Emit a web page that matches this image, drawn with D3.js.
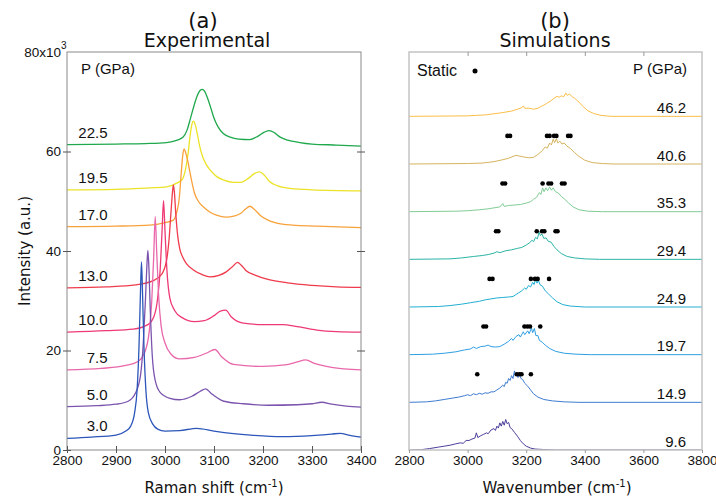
<!DOCTYPE html>
<html>
<head>
<meta charset="utf-8">
<script src="https://cdn.jsdelivr.net/npm/d3@7"></script>
<style>
    body { margin: 0; background: #fff; }
    svg text { font-family: "Liberation Sans", Arial, sans-serif; fill: #111; }
    svg .ttl { font-family: "DejaVu Sans", sans-serif; }
</style>
</head>
<body>
<svg id="chart" width="716" height="498"></svg>
<script>
// experimental spectra, values in units of 10^3 (wavenumber, intensity)
var expPressures = ["22.5", "19.5", "17.0", "13.0", "10.0", "7.5", "5.0", "3.0"];
var expColors = ["#1fa84c", "#ebe326", "#f8a23c", "#ef3b4b", "#ee3a74", "#e967ab", "#7b54ae", "#2c56b9"];

var exp22_5 = [[2800,61.4],[2900,61.5],[2960,61.6],[3003,61.8],[3025,62.3],[3037,62.9],[3045,64.3],[3051,66.3],[3058,68.8],[3065,71.0],[3072,72.3],[3076,72.5],[3081,72.1],[3088,70.4],[3094,68.6],[3099,67.0],[3108,65.0],[3119,63.6],[3133,62.9],[3150,62.5],[3173,62.4],[3190,63.1],[3203,63.9],[3213,64.2],[3223,63.8],[3235,62.9],[3250,62.3],[3275,61.8],[3300,61.5],[3350,61.3],[3400,61.1]];
var exp19_5 = [[2800,52.3],[2900,52.4],[2970,52.7],[3003,52.9],[3025,53.7],[3036,54.5],[3042,56.5],[3047,59.5],[3051,63.0],[3055,65.5],[3058,66.1],[3062,65.3],[3066,63.5],[3071,61.0],[3076,59.2],[3084,57.4],[3092,56.3],[3105,55.0],[3119,54.3],[3140,53.8],[3155,53.8],[3170,54.6],[3183,55.6],[3193,55.9],[3203,55.2],[3214,53.9],[3230,53.1],[3255,52.6],[3300,52.3],[3400,52.1]];
var exp17_0 = [[2800,44.9],[2900,45.0],[2969,45.2],[3000,45.7],[3017,46.2],[3024,47.8],[3029,50.5],[3033,55.5],[3036,59.0],[3039,60.5],[3042,59.8],[3046,58.3],[3050,56.3],[3055,53.8],[3060,51.7],[3068,50.0],[3078,48.9],[3092,47.8],[3105,47.2],[3125,46.8],[3140,47.0],[3155,47.6],[3165,48.5],[3173,49.0],[3182,48.4],[3194,47.2],[3210,46.2],[3228,45.6],[3260,45.2],[3310,45.0],[3400,44.7]];
var exp13_0 = [[2800,32.6],[2880,32.8],[2940,33.2],[2975,34.0],[2993,35.3],[3003,38.0],[3008,42.0],[3012,47.5],[3015,51.5],[3017,53.3],[3019,52.0],[3022,47.5],[3026,43.0],[3030,40.5],[3036,38.8],[3045,37.3],[3058,36.2],[3075,35.3],[3092,34.8],[3110,35.1],[3125,35.8],[3138,36.9],[3148,37.7],[3155,37.2],[3165,36.1],[3185,35.1],[3210,34.3],[3250,33.6],[3300,33.1],[3350,32.8],[3400,32.7]];
var exp10_0 = [[2800,23.7],[2880,24.0],[2935,24.3],[2965,25.2],[2978,27.0],[2985,30.5],[2990,36.0],[2994,44.0],[2997,50.1],[3000,44.0],[3004,36.0],[3010,30.5],[3020,28.0],[3035,26.6],[3060,25.8],[3080,26.0],[3100,27.0],[3113,27.9],[3124,28.1],[3135,26.8],[3160,25.5],[3200,25.2],[3240,25.2],[3270,24.8],[3310,24.1],[3350,23.8],[3400,23.7]];
var exp7_5 = [[2800,16.1],[2870,16.4],[2920,17.0],[2945,17.8],[2960,20.0],[2968,24.0],[2973,30.0],[2977,39.0],[2980,46.9],[2983,40.0],[2987,31.0],[2992,25.0],[3000,21.5],[3012,19.3],[3030,18.3],[3060,18.6],[3085,19.5],[3102,20.2],[3115,18.8],[3140,17.2],[3200,16.8],[3245,17.1],[3270,17.7],[3287,18.1],[3305,17.4],[3340,16.6],[3400,16.1]];
var exp5_0 = [[2800,8.7],[2860,8.9],[2900,9.2],[2925,9.8],[2940,11.5],[2950,15.0],[2956,22.0],[2960,30.0],[2963,37.0],[2965,40.1],[2967,37.0],[2970,28.0],[2974,19.0],[2980,14.0],[2990,11.6],[3010,10.4],[3030,10.1],[3055,10.8],[3072,11.8],[3083,12.3],[3095,11.3],[3120,9.8],[3160,9.3],[3210,9.0],[3270,9.1],[3300,9.3],[3320,9.6],[3340,9.2],[3370,8.8],[3400,8.6]];
var exp3_0 = [[2800,2.35],[2850,2.6],[2900,3.0],[2920,3.8],[2930,4.8],[2938,7.5],[2943,12.0],[2947,21.0],[2950,32.0],[2952,37.8],[2954,32.0],[2957,21.0],[2961,12.0],[2966,7.5],[2975,5.2],[2985,4.2],[3000,3.8],[3030,3.9],[3065,4.35],[3100,3.8],[3140,3.3],[3175,3.0],[3240,2.7],[3300,2.9],[3340,3.2],[3358,3.35],[3375,3.0],[3400,2.6]];
var expSpectra = [exp22_5, exp19_5, exp17_0, exp13_0, exp10_0, exp7_5, exp5_0, exp3_0];

var expXTicks = [2800, 2900, 3000, 3100, 3200, 3300, 3400];
var expYTicks = [0, 20, 40, 60];

// simulated spectra (offset index, relative intensity)
var simPressures = ["46.2", "40.6", "35.3", "29.4", "24.9", "19.7", "14.9", "9.6"];
var simColors = ["#fbbf4c", "#d6b45e", "#80cc95", "#2bb4a6", "#22afd2", "#2f9ee2", "#3d7ccf", "#4b3f9c"];

var sim46_2 = [[2800,0],[3000,0.01],[3060,0.03],[3110,0.07],[3150,0.11],[3170,0.15],[3185,0.18],[3190,0.22],[3195,0.17],[3210,0.17],[3225,0.15],[3240,0.17],[3255,0.22],[3270,0.27],[3285,0.33],[3295,0.38],[3305,0.42],[3312,0.40],[3320,0.43],[3328,0.41],[3335,0.49],[3340,0.44],[3348,0.47],[3355,0.42],[3365,0.38],[3380,0.30],[3395,0.20],[3410,0.12],[3430,0.06],[3455,0.02],[3490,0],[3800,0]];
var sim40_6 = [[2800,0],[3000,0.01],[3050,0.02],[3090,0.05],[3120,0.09],[3140,0.12],[3155,0.16],[3165,0.18],[3175,0.17],[3190,0.15],[3210,0.13],[3225,0.14],[3240,0.20],[3255,0.28],[3265,0.36],[3272,0.33],[3280,0.44],[3286,0.40],[3292,0.52],[3297,0.45],[3303,0.53],[3308,0.44],[3315,0.48],[3322,0.42],[3330,0.44],[3338,0.38],[3350,0.33],[3365,0.24],[3380,0.16],[3400,0.08],[3425,0.03],[3460,0.01],[3500,0],[3800,0]];
var sim35_3 = [[2800,0],[2960,0.01],[3000,0.02],[3040,0.04],[3070,0.06],[3090,0.08],[3110,0.10],[3120,0.17],[3125,0.11],[3140,0.13],[3160,0.14],[3180,0.15],[3200,0.18],[3215,0.21],[3225,0.26],[3235,0.30],[3245,0.40],[3250,0.36],[3256,0.50],[3261,0.42],[3267,0.50],[3273,0.44],[3280,0.52],[3286,0.45],[3292,0.50],[3300,0.42],[3310,0.39],[3320,0.32],[3330,0.27],[3345,0.18],[3360,0.10],[3380,0.04],[3410,0.01],[3460,0],[3800,0]];
var sim29_4 = [[2800,0],[2940,0.01],[2980,0.03],[3020,0.06],[3050,0.08],[3070,0.10],[3090,0.13],[3100,0.16],[3110,0.14],[3130,0.18],[3150,0.20],[3170,0.23],[3185,0.25],[3200,0.30],[3210,0.34],[3220,0.40],[3225,0.37],[3232,0.46],[3238,0.43],[3244,0.57],[3248,0.50],[3254,0.53],[3260,0.44],[3268,0.45],[3275,0.38],[3285,0.36],[3295,0.27],[3305,0.20],[3320,0.12],[3340,0.06],[3365,0.03],[3400,0.01],[3450,0],[3800,0]];
var sim24_9 = [[2800,0],[2900,0.01],[2940,0.03],[2980,0.06],[3010,0.09],[3040,0.12],[3060,0.15],[3080,0.17],[3100,0.19],[3120,0.20],[3140,0.21],[3155,0.22],[3165,0.26],[3175,0.30],[3185,0.34],[3195,0.40],[3200,0.37],[3208,0.45],[3215,0.42],[3222,0.52],[3227,0.47],[3232,0.58],[3237,0.50],[3242,0.55],[3248,0.46],[3255,0.44],[3265,0.34],[3275,0.28],[3290,0.19],[3305,0.11],[3325,0.05],[3350,0.02],[3400,0],[3800,0]];
var sim19_7 = [[2800,0],[2880,0.01],[2920,0.03],[2960,0.06],[2990,0.10],[3010,0.12],[3020,0.16],[3030,0.13],[3045,0.17],[3060,0.18],[3070,0.20],[3080,0.17],[3095,0.16],[3110,0.17],[3125,0.22],[3140,0.28],[3150,0.34],[3155,0.30],[3165,0.38],[3175,0.42],[3180,0.37],[3190,0.48],[3195,0.42],[3205,0.50],[3210,0.44],[3218,0.56],[3222,0.46],[3228,0.55],[3233,0.40],[3240,0.40],[3245,0.30],[3255,0.26],[3265,0.20],[3280,0.13],[3300,0.07],[3330,0.03],[3370,0.01],[3420,0],[3800,0]];
var sim14_9 = [[2800,0],[2860,0.01],[2890,0.03],[2920,0.06],[2950,0.09],[2970,0.11],[2990,0.14],[3000,0.16],[3010,0.14],[3020,0.18],[3030,0.16],[3040,0.19],[3050,0.17],[3060,0.20],[3070,0.19],[3080,0.22],[3090,0.22],[3100,0.26],[3110,0.30],[3120,0.36],[3125,0.33],[3130,0.42],[3135,0.40],[3140,0.50],[3145,0.46],[3150,0.56],[3155,0.50],[3160,0.66],[3163,0.55],[3167,0.62],[3172,0.52],[3177,0.60],[3182,0.50],[3188,0.48],[3195,0.40],[3205,0.34],[3215,0.26],[3225,0.18],[3240,0.11],[3260,0.06],[3290,0.03],[3330,0.01],[3380,0],[3800,0]];
var sim9_6 = [[2800,0],[2840,0.005],[2870,0.03],[2900,0.06],[2920,0.08],[2940,0.10],[2960,0.13],[2975,0.15],[2985,0.14],[2995,0.20],[3005,0.20],[3015,0.23],[3025,0.25],[3030,0.36],[3035,0.26],[3045,0.30],[3055,0.33],[3065,0.36],[3070,0.34],[3080,0.42],[3090,0.45],[3095,0.41],[3100,0.50],[3105,0.46],[3110,0.57],[3115,0.50],[3120,0.60],[3125,0.52],[3130,0.64],[3135,0.55],[3140,0.58],[3145,0.47],[3150,0.45],[3160,0.37],[3170,0.29],[3180,0.20],[3190,0.13],[3200,0.08],[3215,0.04],[3230,0.02],[3260,0.01],[3300,0],[3800,0]];
var simSpectra = [sim46_2, sim40_6, sim35_3, sim29_4, sim24_9, sim19_7, sim14_9, sim9_6];

// static frequencies (cm-1), same order as simPressures
var static46_2 = [];
var static40_6 = [3136, 3145, 3271, 3280, 3295, 3303, 3343, 3351];
var static35_3 = [3119, 3128, 3256, 3276, 3285, 3322, 3331];
var static29_4 = [3097, 3105, 3236, 3254, 3262, 3300, 3307];
var static24_9 = [3075, 3085, 3216, 3230, 3239, 3278];
var static19_7 = [3054, 3063, 3194, 3204, 3213, 3248];
var static14_9 = [3033, 3168, 3177, 3184, 3216];
var static9_6 = [];
var staticFreqs = [static46_2, static40_6, static35_3, static29_4, static24_9, static19_7, static14_9, static9_6];
var staticLevel = 0.59;

var simXTicks = [2800, 3000, 3200, 3400, 3600, 3800];

(function(){

    var svg = d3.select("#chart");

    /////////////////////////////////////////////////////////////////////////

    // (a) EXPERIMENTAL /////////////////////////////////////////////////////

    /////////////////////////////////////////////////////////////////////////

    var xA = d3.scaleLinear().domain([2800, 3400]).range([67, 361]),
        yA = d3.scaleLinear().domain([0, 80]).range([450, 52]);

    svg.append("clipPath").attr("id", "clipA")
        .append("rect").attr("x", 67).attr("y", 52).attr("width", 294).attr("height", 398);

    var lineA = d3.line()
        .x(function (d) { return xA(d[0]); })
        .y(function (d) { return yA(d[1]); })
        .curve(d3.curveMonotoneX);

    var panelA = svg.append("g");

    panelA.append("g").attr("clip-path", "url(#clipA)")
        .selectAll("path")
        .data(expSpectra)
        .join("path")
        .attr("d", lineA)
        .attr("fill", "none")
        .attr("stroke", function (d, i) { return expColors[i]; })
        .attr("stroke-width", 1.3);

    // frame
    panelA.append("rect")
        .attr("x", 67).attr("y", 52).attr("width", 294).attr("height", 398)
        .attr("fill", "none").attr("stroke", "#8a8a8a").attr("stroke-width", 1);

    var axA = panelA.append("g")
        .attr("transform", "translate(0,450)")
        .call(d3.axisBottom(xA).tickValues(expXTicks).tickFormat(d3.format("d")).tickSize(3).tickPadding(2));
    axA.select(".domain").remove();
    axA.selectAll(".tick line").attr("y1", -4).attr("stroke", "#555");
    axA.selectAll("text").style("font-size", "13.5px");

    var ayA = panelA.append("g")
        .attr("transform", "translate(67,0)")
        .call(d3.axisLeft(yA).tickValues(expYTicks).tickSize(4).tickPadding(2));
    ayA.select(".domain").remove();
    ayA.selectAll(".tick line").attr("x1", 4).attr("stroke", "#555");
    ayA.selectAll("text").style("font-size", "13.5px");

    var ayA2 = panelA.append("g")
        .attr("transform", "translate(361,0)")
        .call(d3.axisRight(yA).tickValues([20, 40, 60]).tickSize(4).tickFormat(""));
    ayA2.select(".domain").remove();
    ayA2.selectAll(".tick line").attr("x1", -4).attr("stroke", "#555");

    panelA.append("text").attr("x", 61).attr("y", 57).attr("text-anchor", "end")
        .style("font-size", "13.5px").text("80x10");
    panelA.append("text").attr("x", 61).attr("y", 49).text("3").style("font-size", "10px");

    panelA.append("text").attr("x", 81).attr("y", 74).text("P (GPa)").style("font-size", "15px");

    panelA.selectAll(".plabel")
        .data(expSpectra)
        .join("text")
        .attr("class", "plabel")
        .attr("x", 107.5)
        .attr("y", function (d) { return yA(d[0][1]) - 7; })
        .attr("text-anchor", "end")
        .style("font-size", "15px")
        .text(function (d, i) { return expPressures[i]; });

    panelA.append("text").attr("class", "ttl").attr("x", 203).attr("y", 28)
        .attr("text-anchor", "middle").style("font-size", "21px").text("(a)");
    panelA.append("text").attr("class", "ttl").attr("x", 207).attr("y", 47)
        .attr("text-anchor", "middle").style("font-size", "19px").text("Experimental");

    var xlabA = panelA.append("text").attr("class", "ttl").attr("x", 214).attr("y", 493)
        .attr("text-anchor", "middle").style("font-size", "15px");
    xlabA.append("tspan").text("Raman shift (cm");
    xlabA.append("tspan").attr("dy", -6).style("font-size", "10px").text("-1");
    xlabA.append("tspan").attr("dy", 6).text(")");

    panelA.append("text").attr("class", "ttl")
        .attr("transform", "translate(30,251) rotate(-90)")
        .attr("text-anchor", "middle").style("font-size", "15px").text("Intensity (a.u.)");

    /////////////////////////////////////////////////////////////////////////

    // (b) SIMULATIONS //////////////////////////////////////////////////////

    /////////////////////////////////////////////////////////////////////////

    var xB = d3.scaleLinear().domain([2800, 3800]).range([409, 702]),
        yB = d3.scaleLinear().domain([0, 8.35]).range([450, 52]);

    svg.append("clipPath").attr("id", "clipB")
        .append("rect").attr("x", 409).attr("y", 52).attr("width", 293).attr("height", 398);

    var panelB = svg.append("g");

    panelB.append("g").attr("clip-path", "url(#clipB)")
        .selectAll("path")
        .data(simSpectra)
        .join("path")
        .attr("d", function (d, i) {
            var off = simSpectra.length - 1 - i;
            return d3.line()
                .x(function (p) { return xB(p[0]); })
                .y(function (p) { return yB(off + p[1]); })(d);
        })
        .attr("fill", "none")
        .attr("stroke", function (d, i) { return simColors[i]; })
        .attr("stroke-width", 1);

    // static dots
    staticFreqs.forEach(function (freqs, i) {
        var off = simSpectra.length - 1 - i;
        panelB.selectAll(".dot" + i)
            .data(freqs)
            .join("circle")
            .attr("cx", function (d) { return xB(d); })
            .attr("cy", yB(off + staticLevel))
            .attr("r", 2.3)
            .attr("fill", "#000");
    });

    panelB.append("rect")
        .attr("x", 409).attr("y", 52).attr("width", 293).attr("height", 398)
        .attr("fill", "none").attr("stroke", "#c4c4c4").attr("stroke-width", 1.5);

    var axB = panelB.append("g")
        .attr("transform", "translate(0,450)")
        .call(d3.axisBottom(xB).tickValues(simXTicks).tickFormat(d3.format("d")).tickSize(3).tickPadding(2));
    axB.select(".domain").remove();
    axB.selectAll(".tick line").attr("stroke", "#999");
    axB.selectAll("text").style("font-size", "13.5px");

    var atB = panelB.append("g")
        .attr("transform", "translate(0,52)")
        .call(d3.axisBottom(xB).tickValues([3000, 3200, 3400, 3600]).tickSize(4).tickFormat(""));
    atB.select(".domain").remove();
    atB.selectAll(".tick line").attr("stroke", "#999");

    panelB.selectAll(".slabel")
        .data(simPressures)
        .join("text")
        .attr("class", "slabel")
        .attr("x", 686)
        .attr("y", function (d, i) { return yB(simSpectra.length - 1 - i) - 3.5; })
        .attr("text-anchor", "end")
        .style("font-size", "15px")
        .text(function (d) { return d; });

    panelB.append("text").attr("x", 687).attr("y", 74).attr("text-anchor", "end")
        .style("font-size", "15px").text("P (GPa)");
    panelB.append("text").attr("x", 417).attr("y", 76)
        .style("font-size", "16px").text("Static");
    panelB.append("circle").attr("cx", 475).attr("cy", 71).attr("r", 2.5).attr("fill", "#000");

    panelB.append("text").attr("class", "ttl").attr("x", 555).attr("y", 28)
        .attr("text-anchor", "middle").style("font-size", "21px").text("(b)");
    panelB.append("text").attr("class", "ttl").attr("x", 555).attr("y", 47)
        .attr("text-anchor", "middle").style("font-size", "19px").text("Simulations");

    var xlabB = panelB.append("text").attr("class", "ttl").attr("x", 557).attr("y", 493)
        .attr("text-anchor", "middle").style("font-size", "15px");
    xlabB.append("tspan").text("Wavenumber (cm");
    xlabB.append("tspan").attr("dy", -6).style("font-size", "10px").text("-1");
    xlabB.append("tspan").attr("dy", 6).text(")");

})();
</script>
</body>
</html>
